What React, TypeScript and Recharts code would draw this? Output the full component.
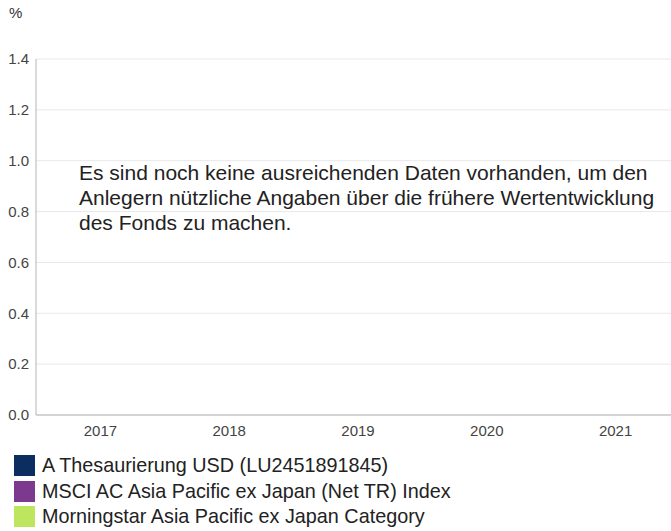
import React from 'react';
import { BarChart, Bar, XAxis, YAxis, CartesianGrid } from 'recharts';

const years = ['2017', '2018', '2019', '2020', '2021'];
const fundValues: (number | null)[] = [null, null, null, null, null];
const indexValues: (number | null)[] = [null, null, null, null, null];
const categoryValues: (number | null)[] = [null, null, null, null, null];
const yTicks = [0, 0.2, 0.4, 0.6, 0.8, 1.0, 1.2, 1.4];

const series = [
  { key: 'fund', name: 'A Thesaurierung USD (LU2451891845)', color: '#0c2d5f' },
  { key: 'index', name: 'MSCI AC Asia Pacific ex Japan (Net TR) Index', color: '#7c3a8e' },
  { key: 'category', name: 'Morningstar Asia Pacific ex Japan Category', color: '#bde65e' },
];

const data = years.map((y, i) => ({
  year: y,
  fund: fundValues[i],
  index: indexValues[i],
  category: categoryValues[i],
}));

const font = '"Liberation Sans", Arial, sans-serif';

export default function App() {
  return (
    <div style={{ position: 'absolute', left: 0, top: 0, width: 671, height: 531, overflow: 'hidden', fontFamily: font, background: '#fff' }}>
      <div style={{ position: 'absolute', left: 9, top: 4, fontSize: 15, color: '#333' }}>%</div>
      <div style={{ position: 'absolute', left: 0, top: 0 }}>
        <BarChart width={680} height={450} data={data} margin={{ top: 59, right: 0, bottom: 0, left: 0 }}>
          <CartesianGrid vertical={false} stroke="#e8e8e8" />
          <XAxis
            dataKey="year"
            tickLine={false}
            axisLine={{ stroke: '#b5b5b5' }}
            height={35}
            tick={{ fontSize: 15, fill: '#444', fontFamily: font }}
            tickMargin={4}
          />
          <YAxis
            type="number"
            domain={[0, 1.4]}
            allowDataOverflow
            ticks={yTicks}
            interval={0}
            width={36}
            tickLine={false}
            axisLine={{ stroke: '#b5b5b5' }}
            tick={{ fontSize: 15, fill: '#444', fontFamily: font }}
            tickFormatter={(v: number) => v.toFixed(1)}
            tickMargin={1}
          />
          {series.map((s) => (
            <Bar key={s.key} dataKey={s.key} name={s.name} fill={s.color} isAnimationActive={false} />
          ))}
        </BarChart>
      </div>
      <div style={{ position: 'absolute', left: 79, top: 160, width: 600, fontSize: 21, lineHeight: '25px', color: '#222' }}>
        Es sind noch keine ausreichenden Daten vorhanden, um den<br />
        Anlegern nützliche Angaben über die frühere Wertentwicklung<br />
        des Fonds zu machen.
      </div>
      <div style={{ position: 'absolute', left: 14, top: 453 }}>
        {series.map((s) => (
          <div key={s.key} style={{ display: 'flex', alignItems: 'center', height: 25.5, fontSize: 19.8, color: '#222', whiteSpace: 'nowrap' }}>
            <div style={{ width: 21, height: 21, background: s.color, marginRight: 7, flexShrink: 0 }} />
            <span>{s.name}</span>
          </div>
        ))}
      </div>
    </div>
  );
}
